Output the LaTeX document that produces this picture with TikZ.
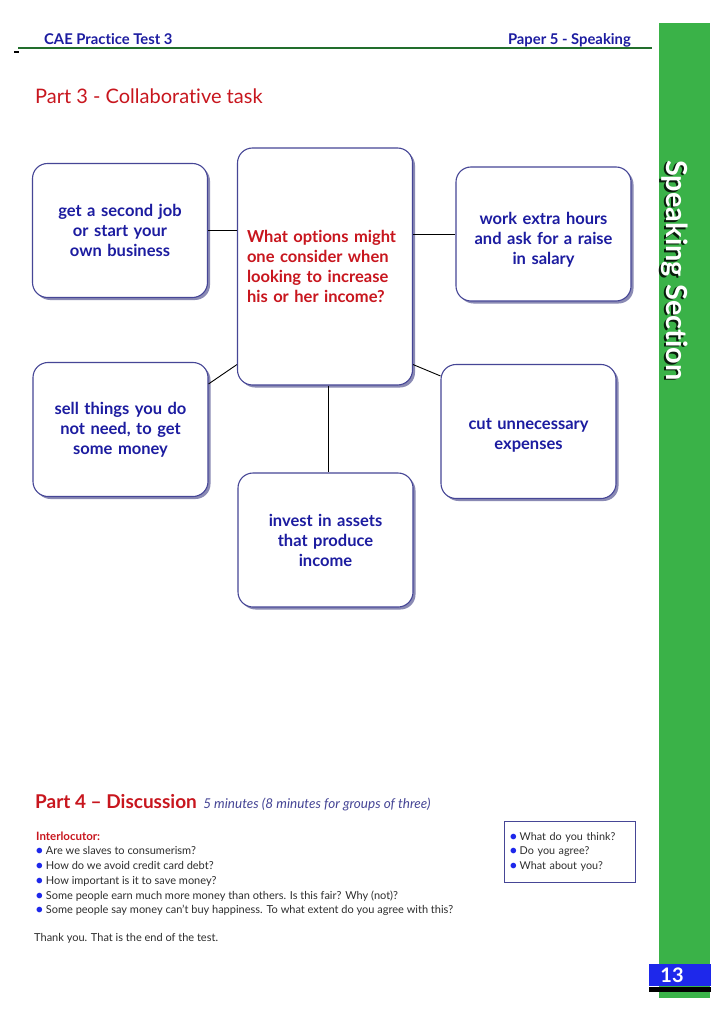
\documentclass[tikz,border=0pt]{standalone}
\usepackage{fontspec}
\setmainfont{Lato}[Ligatures=NoCommon]
\usetikzlibrary{shadows}
\definecolor{CaeBlue}{RGB}{28,28,160}
\definecolor{CaeRed}{RGB}{200,22,30}
\definecolor{CaeGreen}{RGB}{58,178,72}
\definecolor{CaeRule}{RGB}{34,110,44}
\definecolor{CaeFrame}{RGB}{70,70,150}
\definecolor{CaeShade}{RGB}{60,60,130}
\definecolor{CaeNum}{RGB}{30,40,235}
\definecolor{CaeGrey}{RGB}{45,45,45}
\newcommand{\caedot}{{\color{CaeNum}\raisebox{-1pt}{\fontsize{15}{12}\selectfont\textbullet}}\hspace{2pt}}

\begin{document}
\begin{tikzpicture}[x=1pt,y=-1pt,
  opt/.style={rectangle,draw=CaeFrame,line width=1.1pt,fill=white,rounded corners=15pt,
    minimum width=175pt,minimum height=134pt,text width=160pt,align=center,inner sep=0pt,
    text=CaeBlue,font=\fontsize{16.5}{20}\selectfont\bfseries,
    drop shadow={shadow xshift=2.5pt,shadow yshift=-2.5pt,fill=CaeShade,opacity=0.6}},
  link/.style={draw=black,line width=0.9pt},
  txt/.style={anchor=base west,inner sep=0pt,font=\fontsize{11}{12}\selectfont,text=CaeGrey}]
\useasboundingbox (0,0) rectangle (724,1024);
\fill[white] (0,0) rectangle (724,1024);
% page frame
\fill[CaeGreen] (659,23) rectangle (710,998);
\node[rotate=-90,font=\fontsize{29}{30}\selectfont\bfseries,text=black!75!CaeRule] at (673,272) {Speaking Section};
\node[rotate=-90,font=\fontsize{29}{30}\selectfont\bfseries,text=white] (side) at (674.5,270.5) {Speaking Section};
\fill[CaeNum] (649,964) rectangle (711,986);
\fill[black] (649,987) rectangle (711,992);
\node[font=\fontsize{20}{22}\selectfont\bfseries,text=white] (pg) at (672,975) {13};
% header
\node[anchor=base west,inner sep=0pt,font=\fontsize{14.8}{16}\selectfont\bfseries,text=CaeBlue] (hl) at (44,45) {CAE Practice Test 3};
\node[anchor=base east,inner sep=0pt,font=\fontsize{14.8}{16}\selectfont\bfseries,text=CaeBlue] (hr) at (631,45) {Paper 5 - Speaking};
\draw[CaeRule,line width=2pt] (18,48.5) -- (652,48.5);
\draw[black,line width=1.2pt] (14,52) -- (19,52);
% part 3
\node[anchor=base west,inner sep=0pt,font=\fontsize{20}{24}\selectfont,text=CaeRed] (p3) at (35,104) {Part 3 - Collaborative task};
\node[opt,minimum height=237pt,text width=156pt,align=left,text=CaeRed] (q) at (325,266.5)
  {What options might\\one consider when\\looking to increase\\his or her income?};
\node[opt] (opt1) at (120,230.5) {get a second job\\or start your\\own business};
\node[opt] (opt2) at (543.5,234) {\rule{0pt}{24pt}work extra hours\\and ask for a raise\\in salary};
\node[opt] (opt3) at (120.5,429.5) {sell things you do\\not need, to get\\some money};
\node[opt] (opt4) at (528.5,431.5) {\rule{0pt}{19pt}cut unnecessary\\expenses};
\node[opt] (opt5) at (325.5,540) {invest in assets\\that produce\\income};
\draw[link] (opt1.east) -- (opt1.east -| q.west);
\draw[link] (opt2.west -| q.east) -- (opt2.west);
\draw[link] ([yshift=21pt]q.south west) -- ([yshift=-22pt]opt3.north east);
\draw[link] ([yshift=21pt]q.south east) -- ([yshift=-12pt]opt4.north west);
\draw[link] ([xshift=3pt]q.south) -- ([xshift=3pt]q.south |- opt5.north);
% part 4
\node[anchor=base west,inner sep=0pt,font=\fontsize{19}{24}\selectfont\bfseries,text=CaeRed] (p4) at (35,808) {Part 4 – Discussion};
\node[anchor=base west,inner sep=0pt,font=\fontsize{13.5}{14}\selectfont\itshape,text=CaeFrame] (p4t) at ([xshift=6pt]p4.base east) {5 minutes (8 minutes for groups of three)};
\node[txt,font=\fontsize{11.5}{12}\selectfont\bfseries,text=CaeRed] (ilc) at (36,840) {Interlocutor:};
\foreach \y/\t [count=\i] in {854/Are we slaves to consumerism?,
  869/How do we avoid credit card debt?,
  884/How important is it to save money?,
  899/Some people earn much more money than others. Is this fair? Why (not)?,
  913/Some people say money can’t buy happiness. To what extent do you agree with this?} {
  \node[txt] (iq\i) at (35,\y) {\caedot\t};
}
\node[txt] (end) at (34,941) {Thank you. That is the end of the test.};
\node[draw=CaeFrame,line width=0.9pt,inner xsep=5pt,inner ysep=0pt,text width=121pt,minimum height=61pt,
  align=left,font=\fontsize{10.8}{14.5}\selectfont,text=CaeGrey] (ask) at (569.5,851.5)
  {\caedot What do you think?\\\caedot Do you agree?\\\caedot What about you?};
\end{tikzpicture}
\end{document}
